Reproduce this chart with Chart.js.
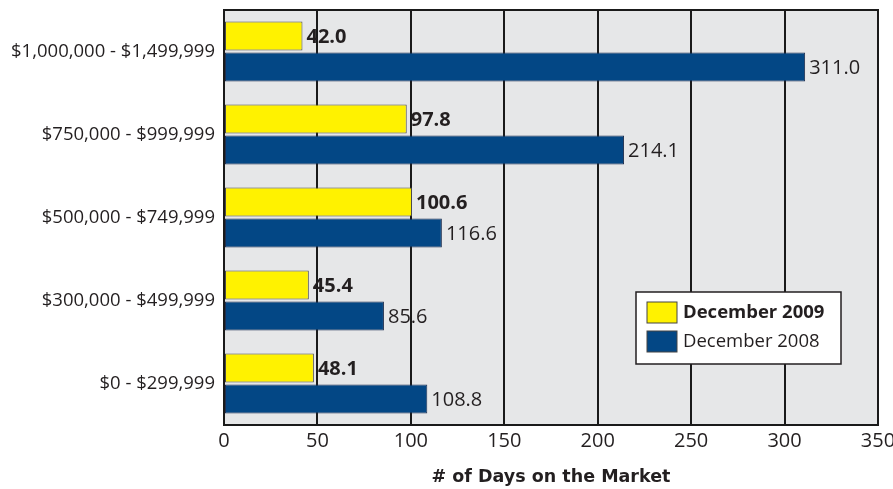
<!DOCTYPE html>
<html>
<head>
<meta charset="utf-8">
<script src="https://cdn.jsdelivr.net/npm/chart.js@4/dist/chart.umd.min.js"></script>
<style>
  html, body { margin: 0; padding: 0; background: #fff; }
  #wrap { width: 893px; height: 489px; }
</style>
</head>
<body>
<div id="wrap"><canvas id="myChart" width="893" height="489"></canvas></div>
<script>
// price ranges, top to bottom
var categories = ["$1,000,000 - $1,499,999", "$750,000 - $999,999", "$500,000 - $749,999", "$300,000 - $499,999", "$0 - $299,999"];
var dec2009 = [42.0, 97.8, 100.6, 45.4, 48.1];
var dec2008 = [311.0, 214.1, 116.6, 85.6, 108.8];
var xTicks = [0, 50, 100, 150, 200, 250, 300, 350];

var FONT = "'Open Sans', sans-serif";

// gray plot background + frame
var frame = {
    id: "frame",
    beforeDraw: function(chart) {
        var a = chart.chartArea, c = chart.ctx;
        c.save();
        c.fillStyle = "#e6e7e8";
        c.fillRect(a.left, a.top, a.right - a.left, a.bottom - a.top);
        c.restore();
    },
    afterDraw: function(chart) {
        var a = chart.chartArea, c = chart.ctx;
        c.save();
        c.strokeStyle = "#1a1a1a";
        c.lineWidth = 2;
        c.strokeRect(a.left, a.top, a.right - a.left, a.bottom - a.top);
        c.restore();
    }
};

// value labels at bar ends
var valueLabels = {
    id: "valueLabels",
    afterDatasetsDraw: function(chart) {
        var c = chart.ctx;
        c.save();
        c.fillStyle = "#231f20";
        c.textBaseline = "middle";
        c.textAlign = "left";
        chart.data.datasets.forEach(function(ds, i) {
            c.font = (i == 0 ? "bold " : "") + "20px " + FONT;
            chart.getDatasetMeta(i).data.forEach(function(bar, j) {
                c.fillText(ds.data[j].toFixed(1), bar.x + 4, bar.y + 1);
            });
        });
        c.restore();
    }
};

// boxed legend inside the plot
var boxLegend = {
    id: "boxLegend",
    afterDraw: function(chart) {
        var a = chart.chartArea, c = chart.ctx;
        var w = 205, h = 72;
        var x = a.right - 37 - w, y = a.bottom - 133;
        c.save();
        c.fillStyle = "#fff";
        c.fillRect(x, y, w, h);
        c.strokeStyle = "#231f20";
        c.lineWidth = 1.5;
        c.strokeRect(x, y, w, h);
        chart.data.datasets.forEach(function(ds, i) {
            var sy = y + 10 + i * 29;
            c.fillStyle = ds.backgroundColor;
            c.fillRect(x + 11, sy, 30, 21);
            c.strokeStyle = "#444";
            c.lineWidth = 1;
            c.strokeRect(x + 11, sy, 30, 21);
            c.fillStyle = "#231f20";
            c.font = (i == 0 ? "bold 18.5px " : "18.5px ") + FONT;
            c.textBaseline = "middle";
            c.fillText(ds.label, x + 47, sy + 11);
        });
        c.restore();
    }
};

var ctx = document.getElementById("myChart");

var data = {
    labels: categories,
    datasets: [
        {
            label: "December 2009",
            data: dec2009,
            backgroundColor: "#fff200",
            borderColor: "#4d4d4d",
            borderWidth: 1,
            borderSkipped: false,
            categoryPercentage: 0.75,
            barPercentage: 0.93
        },
        {
            label: "December 2008",
            data: dec2008,
            backgroundColor: "#034785",
            borderColor: "#1f2f4f",
            borderWidth: 1,
            borderSkipped: false,
            categoryPercentage: 0.75,
            barPercentage: 0.93
        }
    ]
};

var options = {
    indexAxis: "y",
    responsive: false,
    animation: false,
    layout: { padding: { left: 0, right: 15, top: 10, bottom: 0 } },
    plugins: {
        legend: { display: false },
        tooltip: { enabled: false }
    },
    scales: {
        x: {
            min: 0,
            max: 350,
            afterBuildTicks: function(scale) {
                scale.ticks = xTicks.map(function(v) { return { value: v }; });
            },
            afterFit: function(scale) {
                scale.height = 64;
                scale.paddingLeft = 0;
                scale.paddingRight = 0;
            },
            grid: { color: "#1a1a1a", lineWidth: 2, drawTicks: false },
            border: { display: false },
            ticks: { color: "#231f20", padding: 4, font: { family: FONT, size: 20 } },
            title: {
                display: true,
                text: "# of Days on the Market",
                color: "#231f20",
                font: { family: "'DejaVu Sans', sans-serif", size: 17.5, weight: "bold" },
                padding: { top: 0, bottom: 1 }
            }
        },
        y: {
            afterFit: function(scale) {
                scale.width = 224;
                scale.paddingTop = 0;
                scale.paddingBottom = 0;
            },
            grid: { display: false, drawTicks: false },
            border: { display: false },
            ticks: { color: "#231f20", padding: 9, font: { family: FONT, size: 18.5 } }
        }
    }
};

var barChart = new Chart(ctx, {
    type: "bar",
    data: data,
    options: options,
    plugins: [frame, valueLabels, boxLegend]
});
</script>
</body>
</html>
